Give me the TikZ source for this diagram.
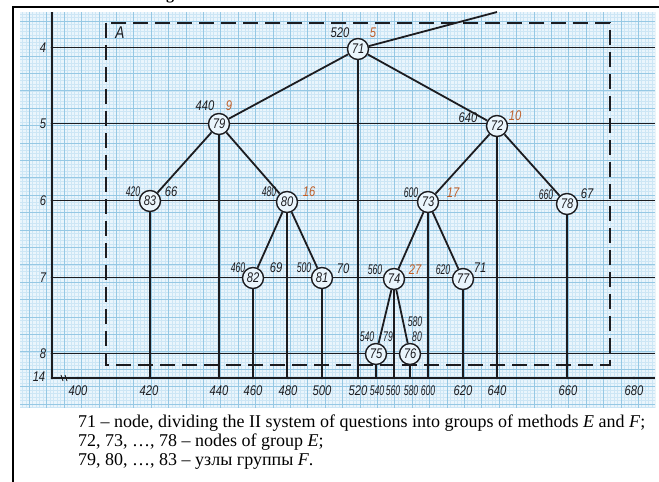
\documentclass[tikz,border=0pt]{standalone}
\usepackage{fontspec}
\setmainfont{Liberation Serif}
\newfontfamily\hand[FakeStretch=0.8]{Liberation Sans}
\newfontfamily\handn[FakeStretch=0.62]{Liberation Sans}
\definecolor{gridbg}{RGB}{234,245,252}
\definecolor{minorc}{RGB}{205,230,245}
\definecolor{majorc}{RGB}{150,200,228}
\definecolor{ink}{RGB}{28,28,32}
\definecolor{orangec}{RGB}{192,96,42}
\tikzset{
  nd/.style={circle, draw=ink, line width=1.4pt, fill=gridbg, minimum size=21pt, inner sep=0pt,
             font=\hand\itshape\fontsize{14}{14}\selectfont, text=ink},
  lbl/.style={font=\hand\itshape\fontsize{14}{14}\selectfont, text=ink, inner sep=0pt},
  olbl/.style={lbl, text=orangec},
  nlbl/.style={font=\handn\itshape\fontsize{14}{14}\selectfont, text=ink, inner sep=0pt},
  edge/.style={line width=1.8pt, draw=ink},
  refline/.style={line width=1.2pt, draw=ink},
  drop/.style={line width=1.2pt, draw=ink},
  frameline/.style={line width=2pt, draw=black},
  dashbox/.style={line width=1.4pt, draw=ink, dash pattern=on 15pt off 7pt},
  minorline/.style={draw=minorc, line width=0.4pt},
  majorline/.style={draw=majorc, line width=0.6pt},
  txt/.style={font=\fontsize{18}{18}\selectfont, anchor=base west, inner sep=0pt},
}
\begin{document}
\begin{tikzpicture}[x=1pt, y=-1pt]
\useasboundingbox (0,0) rectangle (659,482);
\fill[white] (0,0) rectangle (659,482);
% graph paper
\fill[gridbg] (20,12) rectangle (655,408);
\begin{scope}
  \clip (20,12) rectangle (655,408);
  \foreach \i in {-3,...,185} {\draw[minorline] ({29.2+3.48*\i},12) -- ++(0,396);}
  \foreach \i in {-3,...,115} {\draw[minorline] (20,{21.1+3.48*\i}) -- ++(635,0);}
  \foreach \i in {-1,...,37} {\draw[majorline] ({29.2+17.4*\i},12) -- ++(0,396);}
  \foreach \i in {-1,...,23} {\draw[majorline] (20,{21.1+17.4*\i}) -- ++(635,0);}
\end{scope}
% frame and partial title
\node[anchor=base, font=\bfseries\fontsize{16}{16}\selectfont, inner sep=0pt] (ttl) at (170,-0.6) {g};
\draw[frameline] (13,482) -- (13,7) -- (659,7);
% axes
\coordinate (ytop) at (52,12);
\coordinate (org) at (52,378);
\coordinate (xend) at (655,378);
\draw[refline] (ytop) -- (org) -- (xend);
\draw[line width=0.8pt, ink] (61,375) -- (63,381) (65,375) -- (67,381);
\draw[line width=1.6pt, ink] (52,361) -- (52,368);
% horizontal reference lines
\foreach \nm/\yy/\lab in {h4/47.5/4, h5/123.5/5, h6/200.5/6, h7/277.3/7, h8/353.5/8} {
  \coordinate (\nm l) at (52,\yy);
  \coordinate (\nm r) at (655,\yy);
  \draw[refline] (\nm l) -- (\nm r);
  \fill[ink] (\nm l) circle (1.4pt);
  \node[lbl] (\nm t) at (43,\yy) {\lab};
}
\fill[ink] (org) circle (1.4pt);
\node[lbl] (h14t) at (39,377) {14};
% dashed region A
\coordinate (da) at (106,23);
\coordinate (db) at (610,365);
\draw[dashbox] (da) rectangle (db);
\node[lbl, font=\hand\itshape\fontsize{17}{17}\selectfont] (labA) at (120,33) {A};
% x axis labels and ticks
\foreach \xx/\lab in {78/400, 149/420, 219/440, 253/460, 288/480, 322/500, 358/520, 463/620, 497/640, 568/660, 634/680} {
  \fill[ink] (\xx,378) circle (1.4pt);
  \node[lbl] (ax\lab) at (\xx,391) {\lab};
}
\foreach \xx/\lab in {377/540, 393/560, 411/580, 428/600} {
  \fill[ink] (\xx,378) circle (1.2pt);
  \node[nlbl] (ax\lab) at (\xx,391) {\lab};
}
% nodes
\node[nd] (n71) at (358,49) {71};
\node[nd] (n79) at (219,124) {79};
\node[nd] (n72) at (497,126) {72};
\node[nd] (n83) at (150,201) {83};
\node[nd] (n80) at (287,202) {80};
\node[nd] (n73) at (428,202) {73};
\node[nd] (n78) at (567,204) {78};
\node[nd] (n82) at (253,278) {82};
\node[nd] (n81) at (322,278) {81};
\node[nd] (n74) at (394,279) {74};
\node[nd] (n77) at (463,279) {77};
\node[nd] (n75) at (376,354) {75};
\node[nd] (n76) at (410,354) {76};
% tree edges
\coordinate (topend) at (497,12);
\draw[edge] (n71) -- (topend);
\draw[edge] (n71) -- (n79);
\draw[edge] (n71) -- (n72);
\draw[edge] (n79) -- (n83);
\draw[edge] (n79) -- (n80);
\draw[edge] (n72) -- (n73);
\draw[edge] (n72) -- (n78);
\draw[edge] (n80) -- (n82);
\draw[edge] (n80) -- (n81);
\draw[edge] (n73) -- (n74);
\draw[edge] (n73) -- (n77);
\draw[edge] (n74) -- (n75);
\draw[edge] (n74) -- (n76);
% drops to the x axis
\foreach \n in {71,79,72,83,80,73,78,82,81,74,77,75,76} {
  \draw[drop] (n\n) -- (n\n |- org);
}
% node labels
\node[lbl] (l520) at (340,33) {520};  \node[olbl] (o5) at (373,33) {5};
\node[lbl] (l440) at (205,106) {440}; \node[olbl] (o9) at (229,106) {9};
\node[lbl] (l640) at (468,118) {640}; \node[olbl] (o10) at (515,116) {10};
\node[nlbl] (l420) at (133,192) {420}; \node[lbl] (b66) at (171,192) {66};
\node[nlbl] (l480) at (269,192) {480}; \node[olbl] (o16) at (309,192) {16};
\node[nlbl] (l600) at (411,193) {600}; \node[olbl] (o17) at (453,193) {17};
\node[nlbl] (l660) at (546,195) {660}; \node[lbl] (b67) at (587,194) {67};
\node[nlbl] (l460) at (238,268) {460}; \node[lbl] (b69) at (276,268) {69};
\node[nlbl] (l500) at (304,268) {500}; \node[lbl] (b70) at (343,269) {70};
\node[nlbl] (l560) at (375,270) {560}; \node[olbl] (o27) at (415,270) {27};
\node[nlbl] (l620) at (443,270) {620}; \node[lbl] (b71) at (480,268) {71};
\node[nlbl] (l540) at (367,337) {540}; \node[nlbl] (b79) at (388,337) {79};
\node[nlbl] (l580) at (415,322) {580}; \node[nlbl] (b80) at (417,337) {80};
% caption text
\node[txt] (t1) at (78,427) {71 -- node, dividing the II system of questions into groups of methods \textit{E} and \textit{F};};
\node[txt] (t2) at (78,446) {72, 73, …, 78 -- nodes of group \textit{E};};
\node[txt] (t3) at (78,465) {79, 80, …, 83 -- узлы группы \textit{F}.};
\end{tikzpicture}
\end{document}
